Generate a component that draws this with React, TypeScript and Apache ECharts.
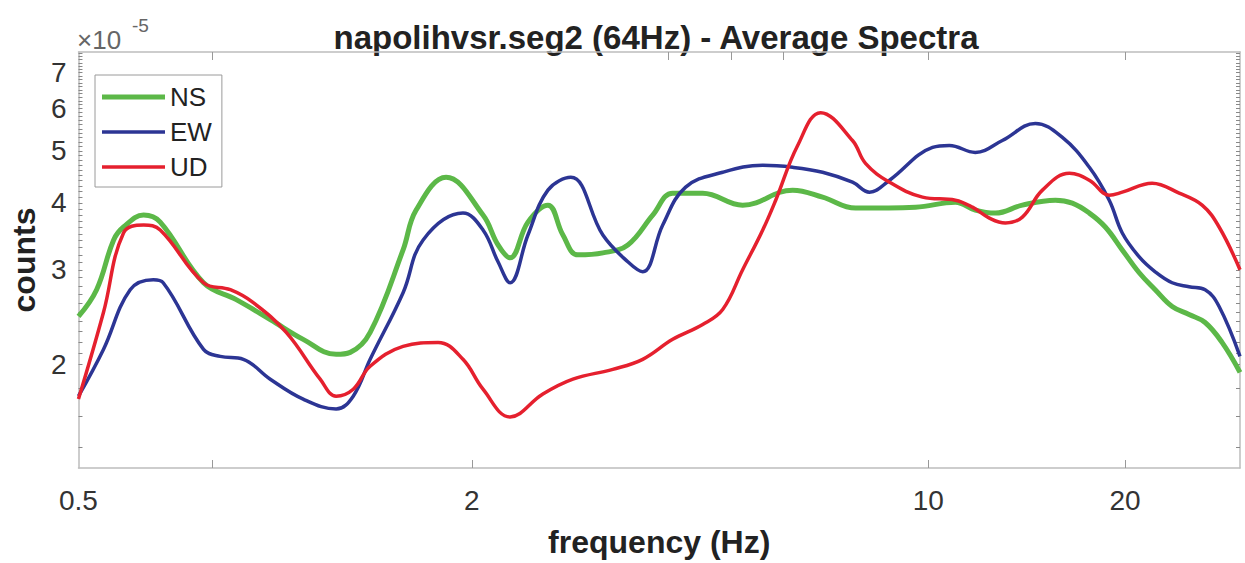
import React, { useEffect, useRef } from "react";
import * as echarts from "echarts";

const FONT = "'Liberation Sans', Arial, Helvetica, sans-serif";

const TITLE = "napolihvsr.seg2 (64Hz) - Average Spectra";
const X_NAME = "frequency (Hz)";
const Y_NAME = "counts";

// axis ranges
const X_MIN = 0.5;
const X_MAX = 30;
const Y_MIN = 1.28;
const Y_MAX = 7.65;

// tick labels / ticks
const xLabelValues = [0.5, 2, 10, 20];
const xBottomTicks = [0.8, 2, 10, 20];
const xTopTicks = [0.8, 4, 5, 6, 10, 20];
const yLabelValues = [2, 3, 4, 5, 6, 7];

// NS (green)
const nsFreq = [0.5, 0.533, 0.566, 0.586, 0.629, 0.667, 0.777, 0.872, 0.983, 1.104, 1.24, 1.303, 1.398, 1.57, 1.644, 1.827, 2.081, 2.194, 2.289, 2.438, 2.616, 2.758, 2.907, 3.175, 3.467, 3.785, 4.061, 4.514, 5.197, 6.199, 6.888, 7.74, 9.558, 11.0, 11.8, 12.67, 13.93, 15.65, 16.61, 17.64, 18.66, 19.81, 21.03, 22.25, 23.62, 25.07, 26.53, 28.16, 30.0];
const nsVal = [2.455, 2.754, 3.411, 3.606, 3.796, 3.683, 2.838, 2.639, 2.423, 2.225, 2.086, 2.104, 2.292, 3.268, 3.878, 4.465, 3.796, 3.339, 3.158, 3.683, 3.961, 3.484, 3.199, 3.226, 3.339, 3.796, 4.171, 4.171, 3.961, 4.225, 4.1, 3.911, 3.927, 4.012, 3.878, 3.828, 3.961, 4.046, 3.995, 3.828, 3.606, 3.268, 2.962, 2.754, 2.562, 2.476, 2.392, 2.196, 1.931];

// EW (blue)
const ewFreq = [0.5, 0.546, 0.6, 0.651, 0.674, 0.777, 0.824, 0.894, 0.983, 1.104, 1.24, 1.317, 1.398, 1.57, 1.685, 1.939, 2.081, 2.194, 2.289, 2.438, 2.616, 2.836, 3.175, 3.467, 3.654, 3.921, 4.251, 4.844, 5.578, 6.199, 6.888, 7.654, 8.127, 8.722, 10.15, 10.77, 11.8, 12.98, 14.58, 16.04, 17.64, 18.92, 19.81, 21.03, 22.25, 23.62, 25.07, 26.53, 27.87, 30.0];
const ewVal = [1.743, 2.131, 2.754, 2.875, 2.838, 2.131, 2.068, 2.042, 1.875, 1.721, 1.649, 1.743, 2.042, 2.719, 3.411, 3.828, 3.56, 3.105, 2.838, 3.484, 4.225, 4.465, 3.484, 3.105, 2.975, 3.637, 4.279, 4.562, 4.7, 4.661, 4.562, 4.371, 4.188, 4.409, 5.076, 5.119, 4.969, 5.23, 5.626, 5.298, 4.661, 4.046, 3.515, 3.172, 2.975, 2.838, 2.79, 2.754, 2.562, 2.068];

// UD (red)
const udFreq = [0.5, 0.546, 0.586, 0.629, 0.667, 0.777, 0.854, 0.926, 1.04, 1.172, 1.24, 1.317, 1.398, 1.57, 1.776, 1.939, 2.081, 2.289, 2.57, 2.857, 3.288, 3.654, 4.061, 4.514, 4.844, 5.197, 5.578, 5.839, 6.309, 6.84, 7.654, 8.013, 8.722, 9.796, 11.0, 11.68, 12.4, 13.12, 13.93, 14.95, 16.44, 17.64, 18.92, 19.81, 22.01, 24.21, 26.25, 27.87, 30.0];
const udVal = [1.721, 2.497, 3.515, 3.637, 3.56, 2.838, 2.754, 2.605, 2.292, 1.875, 1.743, 1.796, 1.982, 2.159, 2.196, 2.042, 1.796, 1.594, 1.759, 1.875, 1.956, 2.042, 2.225, 2.371, 2.529, 3.001, 3.56, 4.046, 5.119, 5.895, 5.23, 4.741, 4.371, 4.1, 4.046, 3.927, 3.747, 3.668, 3.763, 4.225, 4.543, 4.409, 4.135, 4.188, 4.352, 4.171, 3.961, 3.606, 3.001];

const GREEN = "#5cb848";
const BLUE = "#2c3594";
const RED = "#e5202e";
const AXIS_COLOR = "#bdbdbd";

export default function App() {
  const ref = useRef<HTMLDivElement>(null);

  useEffect(() => {
    if (!ref.current) return;
    const chart = echarts.init(ref.current, null, { renderer: "svg" });
    const lg = Math.log10;
    const toData = (f: number[], v: number[]) => f.map((x, i) => [lg(x), lg(v[i])]);
    const fmt = (v: number) => String(parseFloat(Math.pow(10, v).toPrecision(3)));

    const yMinor: number[] = [];
    for (let k = 14; k <= 18; k += 2) yMinor.push(k / 10);
    for (let k = 20; k <= 76; k += 1) yMinor.push(k / 10);

    const xCommon = {
      type: "value" as const,
      min: lg(X_MIN),
      max: lg(X_MAX),
      splitLine: { show: false },
      axisLine: { show: true, onZero: false, lineStyle: { color: AXIS_COLOR, width: 1.5 } },
    };
    const yCommon = {
      type: "value" as const,
      min: lg(Y_MIN),
      max: lg(Y_MAX),
      splitLine: { show: false },
      axisLine: { show: true, onZero: false, lineStyle: { color: AXIS_COLOR, width: 1.5 } },
      axisTick: {
        show: true,
        inside: true,
        length: 4,
        customValues: yMinor.map(lg),
        lineStyle: { color: "#888" },
      },
    };

    const option = {
      animation: false,
      backgroundColor: "#ffffff",
      textStyle: { fontFamily: FONT },
      grid: { left: 75, right: 5, top: 52, bottom: 93, containLabel: false },
      graphic: [
        {
          type: "text",
          x: 656,
          y: 37,
          style: {
            text: TITLE,
            fontSize: 33,
            fontWeight: "bold",
            fontFamily: FONT,
            fill: "#222",
            textAlign: "center",
            textVerticalAlign: "middle",
          },
        },
        {
          type: "text",
          x: 77,
          y: 40,
          style: {
            text: "×10",
            fontSize: 26,
            fontFamily: FONT,
            fill: "#666",
            textVerticalAlign: "middle",
          },
        },
        {
          type: "text",
          x: 132,
          y: 25,
          style: {
            text: "-5",
            fontSize: 19,
            fontFamily: FONT,
            fill: "#666",
            textVerticalAlign: "middle",
          },
        },
      ],
      legend: {
        orient: "vertical",
        left: 95,
        top: 75,
        padding: [9, 10, 7, 7],
        itemGap: 9,
        itemWidth: 63,
        itemHeight: 14,
        backgroundColor: "#ffffff",
        borderColor: "#9a9a9a",
        borderWidth: 1,
        textStyle: { fontSize: 26, lineHeight: 26, color: "#222", fontFamily: FONT },
        data: [
          { name: "NS", icon: "path://M0 0H63V5H0Z" },
          { name: "EW", icon: "path://M0 0H63V3.5H0Z" },
          { name: "UD", icon: "path://M0 0H63V3.5H0Z" },
        ],
      },
      xAxis: [
        {
          ...xCommon,
          position: "bottom",
          name: X_NAME,
          nameLocation: "middle",
          nameGap: 58,
          nameTextStyle: { fontSize: 32, fontWeight: "bold", color: "#222", fontFamily: FONT },
          axisTick: {
            show: true,
            inside: true,
            length: 8,
            customValues: xBottomTicks.map(lg),
            lineStyle: { color: "#999" },
          },
          axisLabel: {
            show: true,
            customValues: xLabelValues.map(lg),
            formatter: fmt,
            fontSize: 28,
            color: "#333",
            margin: 18,
            fontFamily: FONT,
          },
        },
        {
          ...xCommon,
          position: "top",
          axisTick: {
            show: true,
            inside: true,
            length: 8,
            customValues: xTopTicks.map(lg),
            lineStyle: { color: "#999" },
          },
          axisLabel: { show: false },
        },
      ],
      yAxis: [
        {
          ...yCommon,
          position: "left",
          name: Y_NAME,
          nameLocation: "middle",
          nameGap: 36,
          nameTextStyle: { fontSize: 32, fontWeight: "bold", color: "#222", fontFamily: FONT },
          axisLabel: {
            show: true,
            customValues: yLabelValues.map(lg),
            formatter: fmt,
            fontSize: 28,
            color: "#333",
            margin: 12,
            fontFamily: FONT,
          },
        },
        {
          ...yCommon,
          position: "right",
          axisLabel: { show: false },
        },
      ],
      series: [
        {
          name: "NS",
          type: "line",
          xAxisIndex: 0,
          yAxisIndex: 0,
          data: toData(nsFreq, nsVal),
          symbol: "none",
          smooth: 0.4,
          color: GREEN,
          lineStyle: { color: GREEN, width: 5 },
        },
        {
          name: "EW",
          type: "line",
          xAxisIndex: 0,
          yAxisIndex: 0,
          data: toData(ewFreq, ewVal),
          symbol: "none",
          smooth: 0.4,
          color: BLUE,
          lineStyle: { color: BLUE, width: 3.5 },
        },
        {
          name: "UD",
          type: "line",
          xAxisIndex: 0,
          yAxisIndex: 0,
          data: toData(udFreq, udVal),
          symbol: "none",
          smooth: 0.4,
          color: RED,
          lineStyle: { color: RED, width: 3.5 },
        },
      ],
    };

    chart.setOption(option as any);
    return () => chart.dispose();
  }, []);

  return (
    <div
      ref={ref}
      style={{ position: "absolute", left: 0, top: 0, width: 1245, height: 563, background: "#fff" }}
    />
  );
}
